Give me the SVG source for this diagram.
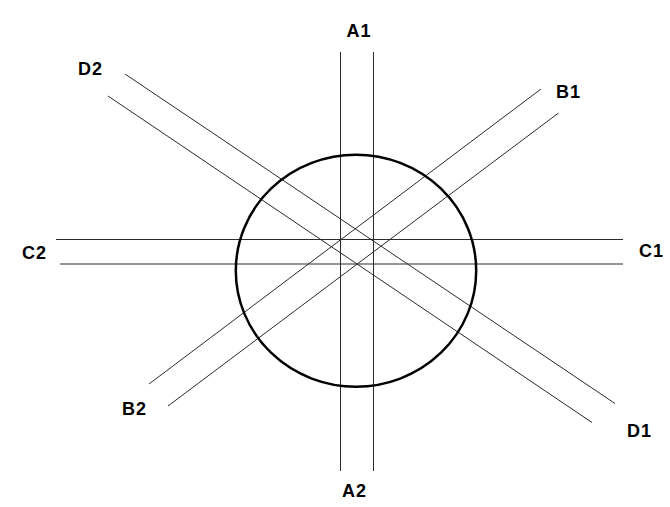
<svg xmlns="http://www.w3.org/2000/svg" width="670" height="507" viewBox="0 0 670 507">
<style>
.ln{stroke:#2a2a2a;stroke-width:1;fill:none}
.lb{font-family:"Liberation Sans",Arial,sans-serif;font-weight:bold;font-size:18px;fill:#000;text-anchor:middle;letter-spacing:1px}
</style>
<rect width="670" height="507" fill="#fff"/>
<g id="connectors">
<line class="ln" x1="340.5" y1="52" x2="340.5" y2="471"/>
<line class="ln" x1="373.5" y1="52" x2="373.5" y2="471"/>
<line class="ln" x1="56" y1="239.5" x2="623" y2="239.5"/>
<line class="ln" x1="60" y1="264" x2="623" y2="264"/>
<line class="ln" x1="125" y1="74" x2="615" y2="403.5"/>
<line class="ln" x1="108" y1="96" x2="592" y2="422.5"/>
<line class="ln" x1="149" y1="384" x2="541" y2="89"/>
<line class="ln" x1="168" y1="406" x2="558.5" y2="113"/>
</g>
<g id="circle">
<ellipse cx="356" cy="270.7" rx="120.2" ry="116" fill="none" stroke="#000" stroke-width="2.5"/>
</g>
<g id="labels">
<text class="lb" x="359" y="37">A1</text>
<text class="lb" x="354.5" y="497">A2</text>
<text class="lb" x="568.5" y="98">B1</text>
<text class="lb" x="134.5" y="415">B2</text>
<text class="lb" x="651.5" y="257">C1</text>
<text class="lb" x="34.5" y="259">C2</text>
<text class="lb" x="639.5" y="437">D1</text>
<text class="lb" x="90.5" y="75">D2</text>
</g>
</svg>
